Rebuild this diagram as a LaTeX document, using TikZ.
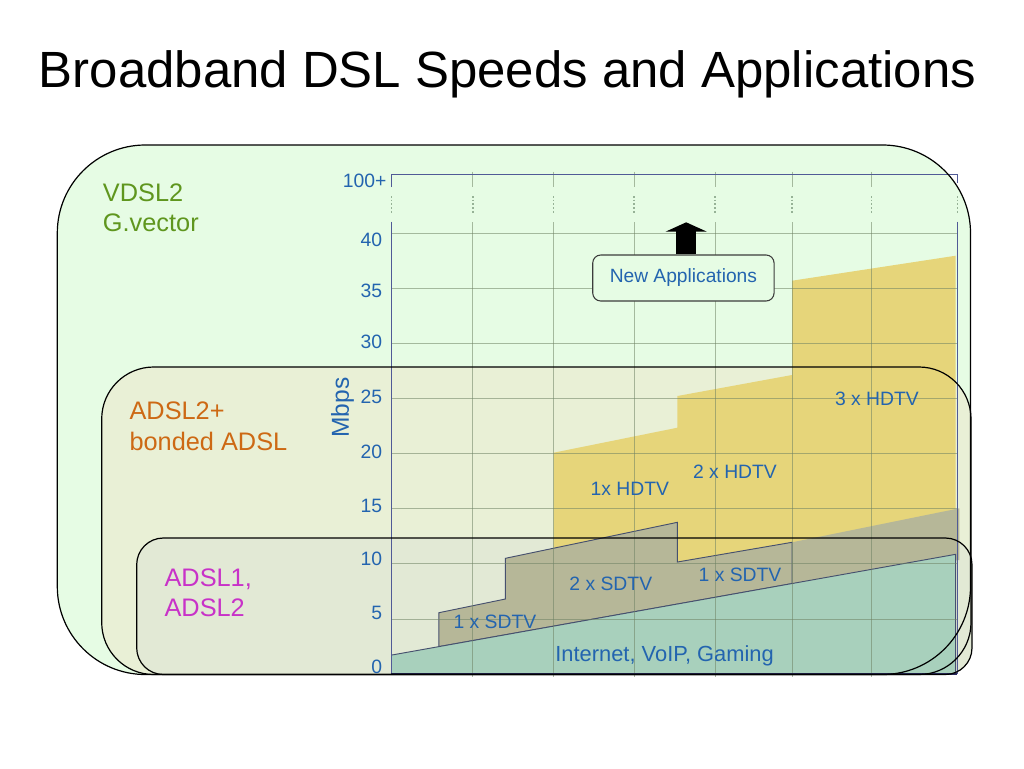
\documentclass[tikz,border=0pt]{standalone}
\usepackage{fontspec}
\setmainfont{Liberation Sans}
\usetikzlibrary{arrows.meta}
\definecolor{vdslfill}{RGB}{230,252,228}
\definecolor{adslpfill}{RGB}{233,240,214}
\definecolor{adslofill}{RGB}{226,233,213}
\definecolor{vdsltext}{RGB}{95,150,30}
\definecolor{adslptext}{RGB}{205,105,20}
\definecolor{adslotext}{RGB}{200,50,200}
\definecolor{axisblue}{RGB}{35,100,175}
\definecolor{hdtvc}{RGB}{230,213,122}
\definecolor{sdtvc}{RGB}{182,183,152}
\definecolor{inetc}{RGB}{168,208,188}
\definecolor{gridc}{RGB}{110,130,100}
\definecolor{dotc}{RGB}{150,178,150}
\definecolor{borderc}{RGB}{80,90,150}
\definecolor{areaedge}{RGB}{70,80,110}
\definecolor{navy}{RGB}{40,40,90}
\begin{document}
\begin{tikzpicture}[x=0.75pt,y=-0.75pt,
  ylab/.style={font=\fontsize{14.5}{17}\selectfont, text=axisblue, inner sep=0pt, anchor=east},
  clab/.style={font=\fontsize{14.5}{17}\selectfont, text=axisblue, inner sep=0pt, anchor=base},
  boxlab/.style={font=\fontsize{19}{22}\selectfont, inner sep=0pt, anchor=base west},
  gridline/.style={draw=gridc, line width=0.6pt, opacity=0.55},
  dotline/.style={draw=dotc, line width=1.1pt, dash pattern=on 1.3pt off 1.5pt},
  boxline/.style={draw=black, line width=0.9pt},
  chartline/.style={draw=borderc, line width=0.8pt},
  appbox/.style={draw={rgb,255:red,60;green,60;blue,60}, line width=0.8pt, fill=vdslfill, rounded corners=6pt,
    minimum width=136pt, minimum height=34.5pt, inner sep=0pt, text=axisblue, font=\fontsize{14.4}{17}\selectfont}
]
\useasboundingbox (0,0) rectangle (1024,768);
\fill[white] (0,0) rectangle (1024,768);

% title
\node[font=\fontsize{38.2}{44}\selectfont, inner sep=0pt, anchor=base] (title) at (507.5,87) {Broadband DSL Speeds and Applications};

% box fills
\fill[vdslfill, rounded corners=66pt] (57.3,145) rectangle (970.5,674.5);
\fill[adslpfill, rounded corners=39pt] (101.7,367) rectangle (971,674.5);
\fill[adslofill, rounded corners=20pt] (136.7,538) rectangle (972,674.5);

% chart areas
\fill[hdtvc] (553.6,452.7) -- (677.4,427.7) -- (677.4,396) -- (792,375) -- (792,280.7) -- (955.7,255.7) -- (955.7,640) -- (553.6,640) -- cycle;
\fill[sdtvc] (792,542.3) -- (959.3,508.3) -- (959.3,560) -- (792,583.6) -- cycle;
\filldraw[fill=sdtvc, draw=areaedge, line width=0.7pt] (438.9,646.6) -- (438.9,612.7) -- (505.4,599) -- (505.4,558.3) -- (677.4,522.3) -- (677.4,562) -- (792,542.3) -- (792,583.6) -- cycle;
\fill[inetc] (391.9,655) -- (955.7,554.3) -- (955.7,674) -- (391.9,674) -- cycle;
\draw[draw=areaedge, line width=0.7pt] (391.9,655) -- (955.7,554.3) -- (955.7,674);

% grid
\foreach \v in {5,10,...,40} {
  \draw[gridline] (391.3,{674-11.017*\v}) -- (957.3,{674-11.017*\v});
}
\foreach \x in {472.8,553.6,634.1,715,792,871.5} {
  \draw[gridline] (\x,222) -- (\x,676.5);
  \draw[gridline] (\x,171.5) -- (\x,187);
}
\foreach \x in {391.3,472.8,553.6,634.1,715,792,871.5,957.3} {
  \draw[dotline] (\x,196) -- (\x,213);
}

% chart borders
\draw[chartline] (391.3,187) -- (391.3,174.3) -- (957.3,174.3) -- (957.3,183);
\draw[chartline] (391.3,221.7) -- (391.3,674);
\draw[chartline] (957.3,221.7) -- (957.3,674);
\draw[draw=navy, line width=1.4pt] (391.3,674) -- (957.3,674);

% box outlines
\draw[boxline, rounded corners=66pt] (57.3,145) rectangle (970.5,674.5);
\draw[boxline, rounded corners=39pt] (101.7,367) rectangle (971,674.5);
\draw[boxline, rounded corners=20pt] (136.7,538) rectangle (972,674.5);

% box labels
\node[boxlab, text=vdsltext] (vdslA) at (102.7,201) {VDSL2};
\node[boxlab, text=vdsltext] (vdslB) at (102.7,231.4) {G.vector};
\node[boxlab, text=adslptext] (adslpA) at (129.3,419.6) {ADSL2+};
\node[boxlab, text=adslptext] (adslpB) at (129.3,450) {bonded ADSL};
\node[boxlab, text=adslotext] (adsloA) at (164.3,586) {ADSL1,};
\node[boxlab, text=adslotext] (adsloB) at (164.3,616.4) {ADSL2};

% axis labels
\node[ylab] (y100) at (386.7,180.7) {100+};
\foreach \v/\yy in {40/240.3,35/290.8,30/342,25/397,20/452,15/506,10/559.3,5/613.3,0/666.7} {
  \node[ylab] (y\v) at (382.3,\yy) {\v};
}
\node[rotate=90, font=\fontsize{18.4}{22}\selectfont, text=axisblue, inner sep=0pt] (mbps) at (342.5,407.6) {Mbps};

% area labels
\node[clab] (hd3) at (876.9,405) {3 x HDTV};
\node[clab] (hd2) at (735,478.3) {2 x HDTV};
\node[clab] (hd1) at (629.8,495) {1x HDTV};
\node[clab] (sd2) at (610.8,590) {2 x SDTV};
\node[clab] (sd1r) at (740,581.7) {1 x SDTV};
\node[clab] (sd1l) at (494.9,628.3) {1 x SDTV};
\node[clab, font=\fontsize{16.4}{19}\selectfont] (inet) at (664.6,661) {Internet, VoIP, Gaming};

% new applications
\node[appbox] (newapp) at (683.4,278) {New Applications};
\coordinate (apex) at (686.2,222.3);
\draw[draw=black, line width=15.3pt, -{Triangle[width=30.6pt,length=7pt]}] (apex |- newapp.north) -- (apex);
\end{tikzpicture}
\end{document}
